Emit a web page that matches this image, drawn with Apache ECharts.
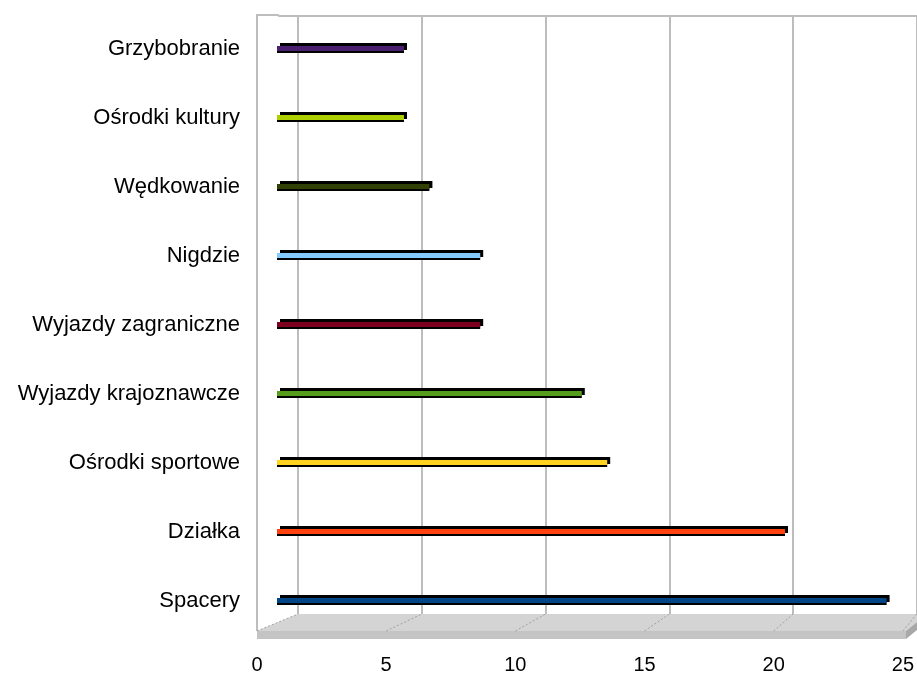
<!DOCTYPE html>
<html>
<head>
<meta charset="utf-8">
<script src="https://cdn.jsdelivr.net/npm/echarts@6/dist/echarts.min.js"></script>
<style>
  html, body { margin: 0; padding: 0; background: #fff; }
  #chart { width: 917px; height: 675px; }
</style>
</head>
<body>
<div id="chart"></div>
<script>
// Categories listed bottom to top, as they appear on the vertical axis
const categories = ['Spacery', 'Działka', 'Ośrodki sportowe', 'Wyjazdy krajoznawcze',
  'Wyjazdy zagraniczne', 'Nigdzie', 'Wędkowanie', 'Ośrodki kultury', 'Grzybobranie'];
const values = [24, 20, 13, 12, 8, 8, 6, 5, 5];
const barColors = ['#004586', '#ff420e', '#ffd320', '#579d1c', '#7e0021',
  '#83caff', '#314004', '#aecf00', '#4b1f6f'];
const axisMin = 0;
const axisMax = 25;
const axisStep = 5;

const FONT = '"Liberation Sans", Arial, sans-serif';
const chart = echarts.init(document.getElementById('chart'), null, { renderer: 'canvas' });

const barData = values.map((v, i) => ({ value: v, itemStyle: { color: barColors[i] } }));

chart.setOption({
  animation: false,
  backgroundColor: '#ffffff',
  grid: [
    // back wall
    { left: 298, top: 16, width: 625, height: 598, containLabel: false },
    // bars and category labels
    { left: 277, top: 14, width: 635, height: 621, containLabel: false },
    // front edge of the floor with value labels
    { left: 257, top: 14, width: 649, height: 625, containLabel: false }
  ],
  xAxis: [
    {
      gridIndex: 0, type: 'value', min: axisMin, max: axisMax, interval: axisStep,
      axisLine: { show: false }, axisTick: { show: false }, axisLabel: { show: false },
      splitLine: { show: true, lineStyle: { color: '#bdbdbd', width: 2 } }
    },
    {
      gridIndex: 1, type: 'value', min: axisMin, max: axisMax, interval: axisStep,
      axisLine: { show: false }, axisTick: { show: false }, axisLabel: { show: false },
      splitLine: { show: false }
    },
    {
      gridIndex: 2, type: 'value', min: axisMin, max: axisMax, interval: axisStep,
      axisLine: { show: false }, axisTick: { show: false },
      axisLabel: { show: true, color: '#000', fontFamily: FONT, fontSize: 20, margin: 20 },
      splitLine: { show: false }
    }
  ],
  yAxis: [
    { gridIndex: 0, type: 'value', show: false },
    {
      gridIndex: 1, type: 'category', data: categories,
      axisLine: { show: false }, axisTick: { show: false },
      axisLabel: { color: '#000', fontFamily: FONT, fontSize: 22, margin: 37 },
      splitLine: { show: false }
    },
    { gridIndex: 2, type: 'value', show: false }
  ],
  series: [
    {
      // dark body of each bar: outline plus the receding top/end faces
      type: 'bar',
      xAxisIndex: 1, yAxisIndex: 1,
      data: values,
      barWidth: 7,
      barGap: '-100%',
      itemStyle: {
        color: '#000',
        shadowColor: '#000', shadowBlur: 0, shadowOffsetX: 3, shadowOffsetY: -3
      },
      silent: true,
      z: 4
    },
    {
      // coloured front face
      type: 'bar',
      xAxisIndex: 1, yAxisIndex: 1,
      data: barData,
      barWidth: 5,
      barGap: '-100%',
      z: 5
    }
  ]
});

// Wall edges, floor slab and the dotted floor lines joining each front tick to its back gridline
function drawFrame() {
  const elems = [];
  const floorBackY = 614, floorFrontY = 631, floorBottomY = 639;
  const wallLeftX = 257;

  elems.push({
    type: 'polyline', z: 1, silent: true,
    shape: { points: [[wallLeftX, floorFrontY], [wallLeftX, 15], [278, 15], [279, 16], [917, 16]] },
    style: { stroke: '#bdbdbd', lineWidth: 2, fill: null }
  });
  elems.push({
    type: 'polygon', z: 1, silent: true,
    shape: { points: [[wallLeftX, floorFrontY], [298, floorBackY], [917, floorBackY], [917, 622], [906, floorFrontY]] },
    style: { fill: '#d4d4d4' }
  });
  elems.push({
    type: 'rect', z: 1, silent: true,
    shape: { x: wallLeftX, y: floorFrontY, width: 906 - wallLeftX, height: floorBottomY - floorFrontY },
    style: { fill: '#c4c4c4' }
  });
  elems.push({
    type: 'polygon', z: 1, silent: true,
    shape: { points: [[906, floorFrontY], [917, 622], [917, 630], [906, floorBottomY]] },
    style: { fill: '#a8a8a8' }
  });

  for (let v = axisMin; v <= axisMax; v += axisStep) {
    const back = chart.convertToPixel({ xAxisIndex: 0 }, v);
    const front = chart.convertToPixel({ xAxisIndex: 2 }, v);
    elems.push({
      type: 'line', z: 2, silent: true,
      shape: { x1: front, y1: floorFrontY, x2: back, y2: floorBackY },
      style: { stroke: '#a0a0a0', lineWidth: 1, lineDash: [2, 2] }
    });
  }
  chart.setOption({ graphic: elems });
}
drawFrame();
</script>
</body>
</html>
